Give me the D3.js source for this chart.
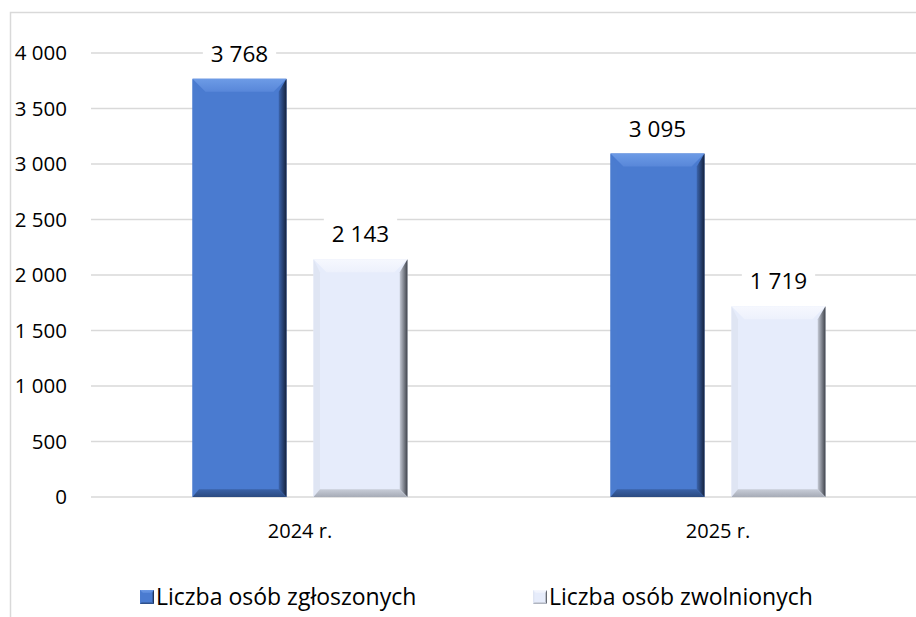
<!DOCTYPE html>
<html>
<head>
<meta charset="utf-8">
<script src="https://cdn.jsdelivr.net/npm/d3@7"></script>
<style>
  body { margin: 0; background: #fff; }
  svg text { font-family: "Open Sans", sans-serif; fill: #000; }
</style>
</head>
<body>
<svg></svg>
<script>
// data
var categories = ["2024 r.", "2025 r."]
var seriesNames = ["Liczba osób zgłoszonych", "Liczba osób zwolnionych"]
var reported = [3768, 3095]
var released = [2143, 1719]
var yTicks = [0, 500, 1000, 1500, 2000, 2500, 3000, 3500, 4000]

var width = 916, height = 617
var margin = ({top: 53, right: -11, bottom: 120, left: 91})

var svg = d3.select("svg").attr("width", width).attr("height", height)

var data = categories.map((c, i) => ({cat: c, values: [reported[i], released[i]]}))

var groupW = 215
var x = d3.scaleBand().domain(categories).range([margin.left, width - margin.right]).padding(0)
var inner = d3.scaleBand().domain([0, 1]).range([0, groupW]).paddingInner(0.223).paddingOuter(0)
var y = d3.scaleLinear().domain([0, 4000]).range([497, 53])

var fmt = v => d3.format(",")(v).replace(/,/g, " ")

// palettes for the bevel look
var pal = [
  {base: "#4a7bd0", top1: "#6d9be6", top2: "#5887d9", left: "#4b7ccf", right1: "#3b64ad", right2: "#15223d", bot1: "#3a62a8", bot2: "#2b4a80"},
  {base: "#e6ecfb", top1: "#f6f8fe", top2: "#edf1fc", left: "#dfe5f3", right1: "#c5cad6", right2: "#3f434b", bot1: "#c8cdd8", bot2: "#a6abb6"}
]

var defs = svg.append("defs")
pal.forEach((p, i) => {
  var g1 = defs.append("linearGradient").attr("id", "top" + i).attr("x1", 0).attr("y1", 0).attr("x2", 0).attr("y2", 1)
  g1.append("stop").attr("offset", "0%").attr("stop-color", p.top1)
  g1.append("stop").attr("offset", "100%").attr("stop-color", p.top2)
  var g2 = defs.append("linearGradient").attr("id", "right" + i).attr("x1", 0).attr("y1", 0).attr("x2", 1).attr("y2", 0)
  g2.append("stop").attr("offset", "0%").attr("stop-color", p.right1)
  g2.append("stop").attr("offset", "100%").attr("stop-color", p.right2)
  var g3 = defs.append("linearGradient").attr("id", "bot" + i).attr("x1", 0).attr("y1", 0).attr("x2", 0).attr("y2", 1)
  g3.append("stop").attr("offset", "0%").attr("stop-color", p.bot1)
  g3.append("stop").attr("offset", "100%").attr("stop-color", p.bot2)
})

function bevel(g, x0, y0, w, h, i, b) {
  var p = pal[i]
  var x1 = x0 + w, y1 = y0 + h
  g.append("rect").attr("x", x0).attr("y", y0).attr("width", w).attr("height", h).attr("fill", p.base)
  g.append("polygon").attr("points", [[x0, y0], [x1, y0], [x1 - b, y0 + b], [x0 + b, y0 + b]].join(" ")).attr("fill", "url(#top" + i + ")")
  g.append("polygon").attr("points", [[x0, y0], [x0 + b * 0.5, y0 + b], [x0 + b * 0.5, y1 - b * 0.6], [x0, y1]].join(" ")).attr("fill", p.left)
  g.append("polygon").attr("points", [[x1, y0], [x1, y1], [x1 - b * 0.6, y1 - b * 0.6], [x1 - b * 0.6, y0 + b]].join(" ")).attr("fill", "url(#right" + i + ")")
  g.append("polygon").attr("points", [[x0, y1], [x1, y1], [x1 - b * 0.6, y1 - b * 0.6], [x0 + b * 0.5, y1 - b * 0.6]].join(" ")).attr("fill", "url(#bot" + i + ")")
}

// frame
svg.append("path").attr("d", `M10.5,${height} V12.5 H${width}`).attr("fill", "none").attr("stroke", "#d9d9d9").attr("stroke-width", 1.5)

// grid
svg.append("g").selectAll("line").data(yTicks).join("line")
  .attr("x1", margin.left).attr("x2", width)
  .attr("y1", d => y(d)).attr("y2", d => y(d))
  .attr("stroke", "#d9d9d9").attr("stroke-width", 1.5)

// y labels
svg.append("g").selectAll("text").data(yTicks).join("text")
  .attr("x", 67).attr("y", d => y(d)).attr("dy", "0.36em")
  .attr("text-anchor", "end").style("font-size", "20.5px")
  .text(d => fmt(d))

// bars
var bars = svg.append("g")
data.forEach(d => {
  d.values.forEach((v, i) => {
    var bx = x(d.cat) + (x.bandwidth() - groupW) / 2 + inner(i)
    bevel(bars, bx, y(v), inner.bandwidth(), y(0) - y(v), i, 13)
  })
})

// value labels with white background
var labels = svg.append("g")
data.forEach(d => {
  d.values.forEach((v, i) => {
    var cx = x(d.cat) + (x.bandwidth() - groupW) / 2 + inner(i) + inner.bandwidth() / 2
    var cy = y(v) - 25
    var t = labels.append("text").attr("x", cx).attr("y", cy).attr("dy", "0.36em")
      .attr("text-anchor", "middle").style("font-size", "22.5px").text(fmt(v))
    var bb = t.node().getBBox()
    labels.insert("rect", "text").attr("x", bb.x - 8).attr("y", bb.y - 2)
      .attr("width", bb.width + 16).attr("height", bb.height + 4).attr("fill", "#fff")
  })
})

// category labels
svg.append("g").selectAll("text").data(categories).join("text")
  .attr("x", d => x(d) + x.bandwidth() / 2).attr("y", 531).attr("dy", "0.36em")
  .attr("text-anchor", "middle").style("font-size", "20px")
  .text(d => d)

// legend
var legend = svg.append("g").attr("class", "legend")
var legX = [140, 533]
seriesNames.forEach((n, i) => {
  bevel(legend, legX[i], 590, 14, 14, i, 3)
  legend.append("text").attr("x", legX[i] + 16).attr("y", 597).attr("dy", "0.36em")
    .style("font-size", "23px").text(n)
})
</script>
</body>
</html>
